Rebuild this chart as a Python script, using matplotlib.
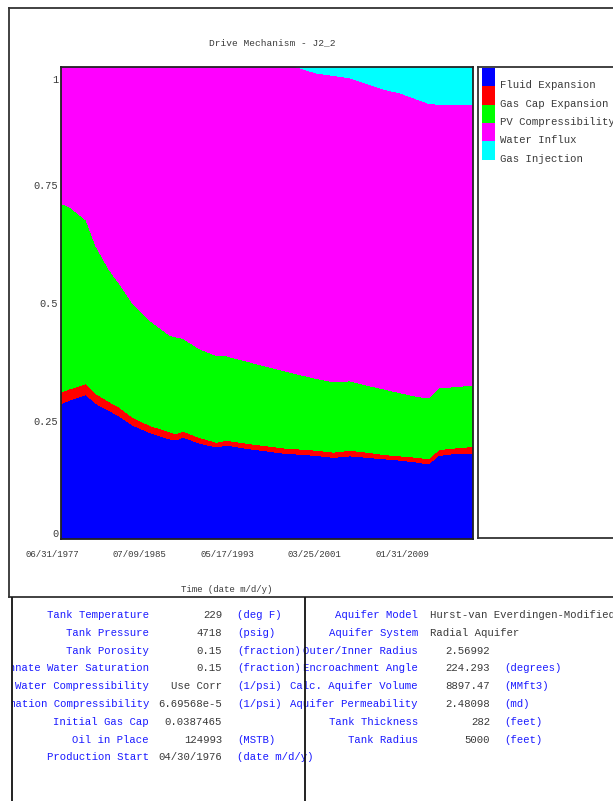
import matplotlib
matplotlib.use('Agg')
import matplotlib.pyplot as plt
from matplotlib.patches import Rectangle
from matplotlib.lines import Line2D
from matplotlib.transforms import ScaledTranslation

# data (decimal years, fraction of drive)
years = [1977.50, 1978.25, 1979.75, 1980.65, 1981.85, 1982.75, 1983.95, 1985.45,
         1987.25, 1987.85, 1988.45, 1989.95, 1991.45, 1992.36, 1994.46, 1997.46,
         1998.66, 2000.46, 2001.96, 2003.46, 2004.96, 2006.46, 2007.96, 2009.46,
         2010.51, 2011.41, 2012.46, 2014.50]
fluid_exp = [0.287, 0.294, 0.306, 0.287, 0.272, 0.260, 0.241, 0.226, 0.212, 0.210,
             0.216, 0.203, 0.195, 0.199, 0.191, 0.182, 0.180, 0.177, 0.173, 0.176,
             0.173, 0.170, 0.167, 0.163, 0.159, 0.177, 0.180, 0.182]
gascap_exp = [0.024, 0.024, 0.023, 0.021, 0.019, 0.019, 0.017, 0.015, 0.015, 0.013,
              0.013, 0.012, 0.010, 0.010, 0.011, 0.011, 0.011, 0.011, 0.011, 0.012,
              0.011, 0.009, 0.009, 0.010, 0.011, 0.012, 0.012, 0.014]
pv_comp = [0.400, 0.386, 0.347, 0.312, 0.279, 0.262, 0.241, 0.223, 0.205, 0.205,
           0.196, 0.188, 0.184, 0.179, 0.173, 0.164, 0.159, 0.152, 0.149, 0.147,
           0.142, 0.139, 0.134, 0.129, 0.129, 0.132, 0.130, 0.130]
water_influx = [0.289, 0.296, 0.324, 0.380, 0.430, 0.459, 0.501, 0.536, 0.568, 0.572,
                0.575, 0.597, 0.611, 0.612, 0.625, 0.643, 0.650, 0.647, 0.649, 0.642,
                0.639, 0.635, 0.635, 0.630, 0.624, 0.600, 0.598, 0.594]
gas_inj = [0, 0, 0, 0, 0, 0, 0, 0, 0, 0, 0, 0, 0, 0, 0, 0,
           0, 0.013, 0.018, 0.023, 0.035, 0.047, 0.055, 0.068, 0.077, 0.079, 0.080, 0.080]

mechanisms = ['Fluid Expansion', 'Gas Cap Expansion', 'PV Compressibility',
              'Water Influx', 'Gas Injection']
colors = ['#0000ff', '#ff0000', '#00ff00', '#ff00ff', '#00ffff']

xtick_pos = [1977.50, 1985.36, 1993.22, 2001.08, 2008.94]
xtick_labels = ['06/31/1977', '07/09/1985', '05/17/1993', '03/25/2001', '01/31/2009']
ytick_pos = [0, 0.25, 0.5, 0.75, 1]
ytick_labels = ['0', '0.25', '0.5', '0.75', '1']

left_labels = ['Tank Temperature', 'Tank Pressure', 'Tank Porosity',
               'Connate Water Saturation', 'Water Compressibility',
               'Formation Compressibility', 'Initial Gas Cap', 'Oil in Place',
               'Production Start']
left_values = ['229', '4718', '0.15', '0.15', 'Use Corr', '6.69568e-5',
               '0.0387465', '124993', '04/30/1976']
left_units = ['(deg F)', '(psig)', '(fraction)', '(fraction)', '(1/psi)', '(1/psi)',
              '', '(MSTB)', '(date m/d/y)']
right_labels = ['Aquifer Model', 'Aquifer System', 'Outer/Inner Radius',
                'Encroachment Angle', 'Calc. Aquifer Volume', 'Aquifer Permeability',
                'Tank Thickness', 'Tank Radius']
right_values = ['', '', '2.56992', '224.293', '8897.47', '2.48098', '282', '5000']
right_texts = ['Hurst-van Everdingen-Modified', 'Radial Aquifer']
right_units = ['', '', '', '(degrees)', '(MMft3)', '(md)', '(feet)', '(feet)']

W, H = 613, 801
font = 'Liberation Mono'
blue_txt = '#1a1aff'
grey_txt = '#3a3a3a'


def fx(px):
    return px / W


def fy(py):
    return 1 - py / H


fig = plt.figure(figsize=(W / 100, H / 100), dpi=100)

# outer frames
fig.add_artist(Line2D([fx(9), fx(640)], [fy(8), fy(8)], color='#333333', lw=1.3))
fig.add_artist(Line2D([fx(9), fx(9)], [fy(8), fy(597)], color='#333333', lw=1.3))
fig.add_artist(Line2D([fx(9), fx(640)], [fy(597), fy(597)], color='#333333', lw=1.3))
fig.add_artist(Line2D([fx(12), fx(12)], [fy(598), fy(810)], color='#111111', lw=1.3))
fig.add_artist(Line2D([fx(305), fx(305)], [fy(598), fy(810)], color='#111111', lw=1.3))

# main stacked chart
ax = fig.add_axes([fx(61), fy(539), fx(473) - fx(61), fy(67) - fy(539)])
ax.stackplot(years, fluid_exp, gascap_exp, pv_comp, water_influx, gas_inj,
             colors=colors, linewidth=0, antialiased=False)
ax.set_xlim(years[0], years[-1])
ax.set_ylim(0, 1)
for s in ax.spines.values():
    s.set_linewidth(1.3)
    s.set_color('#222222')
ax.set_xticks(xtick_pos)
ax.set_xticklabels(xtick_labels, fontfamily=font, fontsize=6.5, color=grey_txt)
ax.set_yticks(ytick_pos)
ax.set_yticklabels(ytick_labels, fontfamily=font, fontsize=7.4, color=grey_txt)
ax.tick_params(axis='x', length=0, pad=8)
ax.tick_params(axis='y', length=0, pad=2)
offset = ScaledTranslation(-9 / 100, 0, fig.dpi_scale_trans)
for lab in ax.get_xticklabels():
    lab.set_transform(lab.get_transform() + offset)
ylabs = ax.get_yticklabels()
ylabs[0].set_verticalalignment('bottom')
ylabs[-1].set_verticalalignment('top')
ylabs[-1].set_transform(ylabs[-1].get_transform() +
                        ScaledTranslation(0, -8 / 100, fig.dpi_scale_trans))

fig.text(fx(272), fy(43), 'Drive Mechanism - J2_2', fontfamily=font, fontsize=6.8,
         color=grey_txt, ha='center', va='center')
fig.text(fx(227), fy(590), 'Time (date m/d/y)', fontfamily=font, fontsize=6.5,
         color=grey_txt, ha='center', va='center')

# legend box
lax = fig.add_axes([fx(478), fy(538), fx(660) - fx(478), fy(67) - fy(538)])
lax.set_xlim(478, 660)
lax.set_ylim(538, 67)
lax.set_xticks([])
lax.set_yticks([])
for s in lax.spines.values():
    s.set_linewidth(1.3)
    s.set_color('#333333')
sw_top = 68
sw_h = 18.3
for i, (name, c) in enumerate(zip(mechanisms, colors)):
    lax.add_patch(Rectangle((482, sw_top + i * sw_h), 13, sw_h, color=c, lw=0))
    lax.text(500, sw_top + (i + 1) * sw_h - 1, name, fontfamily=font, fontsize=7.7,
             color=grey_txt, ha='left', va='center')

# info panel
iax = fig.add_axes([fx(12), 0, 1 - fx(12), fy(597)])
iax.set_xlim(12, 613)
iax.set_ylim(801, 597)
iax.axis('off')
row_y = [615 + 17.8 * i for i in range(len(left_labels))]
for i in range(len(left_labels)):
    iax.text(149, row_y[i], left_labels[i], fontfamily=font, fontsize=7.7,
             color=blue_txt, ha='right', va='center', clip_on=True)
    iax.text(222, row_y[i], left_values[i], fontfamily=font, fontsize=7.7,
             color=grey_txt, ha='right', va='center', clip_on=True)
    iax.text(237, row_y[i], left_units[i], fontfamily=font, fontsize=7.7,
             color=blue_txt, ha='left', va='center', clip_on=True)
for i in range(len(right_labels)):
    iax.text(418, row_y[i], right_labels[i], fontfamily=font, fontsize=7.7,
             color=blue_txt, ha='right', va='center', clip_on=True)
    if i < len(right_texts):
        iax.text(430, row_y[i], right_texts[i], fontfamily=font, fontsize=7.7,
                 color=grey_txt, ha='left', va='center', clip_on=True)
    iax.text(490, row_y[i], right_values[i], fontfamily=font, fontsize=7.7,
             color=grey_txt, ha='right', va='center', clip_on=True)
    iax.text(504, row_y[i], right_units[i], fontfamily=font, fontsize=7.7,
             color=blue_txt, ha='left', va='center', clip_on=True)

fig.savefig('out.png', dpi=100)
